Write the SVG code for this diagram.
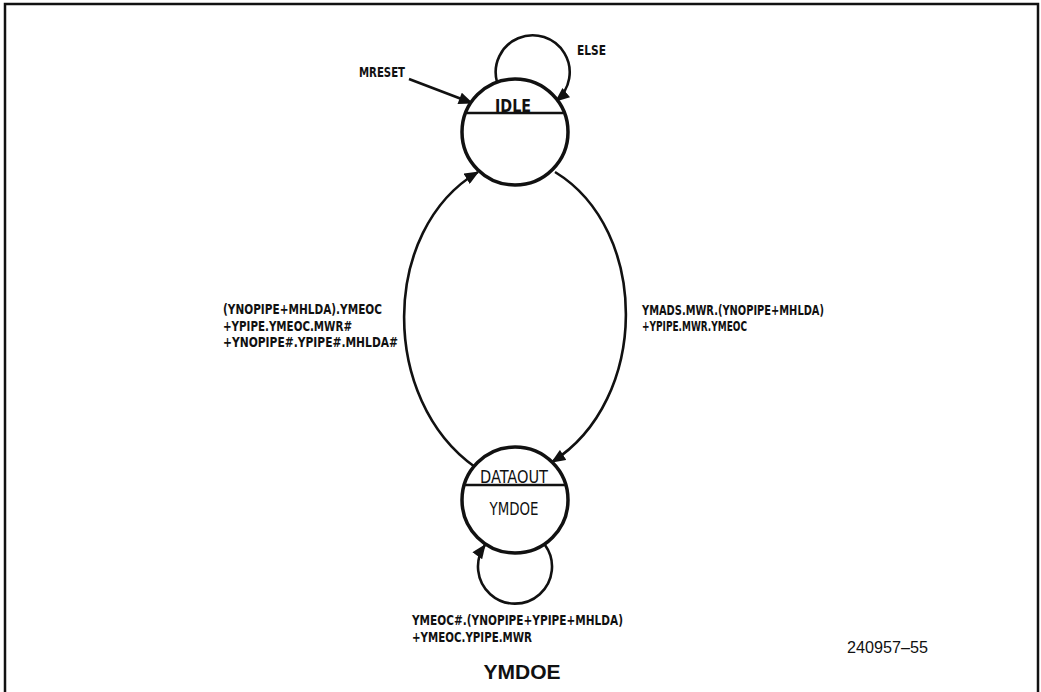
<svg xmlns="http://www.w3.org/2000/svg" width="1041" height="692" viewBox="0 0 1041 692">
  <style>
    .frame { fill: none; stroke: #111; stroke-width: 2.5; }
    .state { fill: #fff; stroke: #111; stroke-width: 3.5; }
    .divider { stroke: #111; stroke-width: 2.4; }
    .edge { fill: none; stroke: #111; stroke-width: 2.6; }
    .lbl { font-family: "Liberation Sans Narrow", "DejaVu Sans Condensed", "Liberation Sans", sans-serif; font-weight: bold; font-size: 14px; fill: #111; }
    .name { font-family: "Liberation Sans Narrow", "DejaVu Sans Condensed", "Liberation Sans", sans-serif; font-size: 18px; fill: #111; text-anchor: middle; }
    .title { font-family: "Liberation Sans", Arial, sans-serif; font-weight: bold; font-size: 21px; fill: #111; text-anchor: middle; }
    .fig { font-family: "Liberation Sans", Arial, sans-serif; font-size: 16px; fill: #111; }
  </style>
  <defs>
    <marker id="arrow" viewBox="0 0 12 10" refX="11" refY="5" markerWidth="15" markerHeight="12" markerUnits="userSpaceOnUse" orient="auto">
      <path d="M0,0 L12,5 L0,10 Z" fill="#111"/>
    </marker>
  </defs>

  <rect width="1041" height="692" fill="#fff"/>
  <!-- page frame, open at the bottom -->
  <path class="frame" d="M5,692 V4 H1038 V692"/>

  <!-- connectors -->
  <g id="connectors">
    <!-- reset entry -->
    <path class="edge" d="M409,79 L472,103" marker-end="url(#arrow)"/>
    <!-- IDLE self loop: ELSE -->
    <path class="edge" d="M497,82 A37,37 0 1 1 556,101" marker-end="url(#arrow)"/>
    <!-- IDLE -> DATAOUT -->
    <path class="edge" d="M555,172 C650,230 650,400 552,462" marker-end="url(#arrow)"/>
    <!-- DATAOUT -> IDLE -->
    <path class="edge" d="M475,467 C380,400 380,230 478,172" marker-end="url(#arrow)"/>
    <!-- DATAOUT self loop -->
    <path class="edge" d="M545,545 A37,37 0 1 1 485,545" marker-end="url(#arrow)"/>
  </g>

  <!-- state IDLE -->
  <g id="idle">
    <circle class="state" cx="515" cy="132" r="53"/>
    <line class="divider" x1="467" y1="113" x2="563" y2="113"/>
    <text class="name" x="513" y="112" textLength="36" lengthAdjust="spacingAndGlyphs" font-weight="bold">IDLE</text>
  </g>

  <!-- state DATAOUT -->
  <g id="dataout">
    <circle class="state" cx="515" cy="500" r="53"/>
    <line class="divider" x1="464" y1="485" x2="566" y2="485"/>
    <text class="name" x="514" y="483" textLength="68" lengthAdjust="spacingAndGlyphs">DATAOUT</text>
    <text class="name" x="514" y="515" textLength="49" lengthAdjust="spacingAndGlyphs" font-size="16">YMDOE</text>
  </g>

  <!-- transition labels -->
  <g id="labels">
    <text class="lbl" x="359" y="77" textLength="46" lengthAdjust="spacingAndGlyphs">MRESET</text>
    <text class="lbl" x="577" y="55" textLength="29" lengthAdjust="spacingAndGlyphs">ELSE</text>

    <text class="lbl" x="223" y="314" textLength="159" lengthAdjust="spacingAndGlyphs">(YNOPIPE+MHLDA).YMEOC</text>
    <text class="lbl" x="223" y="331" textLength="129" lengthAdjust="spacingAndGlyphs">+YPIPE.YMEOC.MWR#</text>
    <text class="lbl" x="223" y="347" textLength="175" lengthAdjust="spacingAndGlyphs">+YNOPIPE#.YPIPE#.MHLDA#</text>

    <text class="lbl" x="642" y="315" textLength="182" lengthAdjust="spacingAndGlyphs">YMADS.MWR.(YNOPIPE+MHLDA)</text>
    <text class="lbl" x="642" y="331" textLength="105" lengthAdjust="spacingAndGlyphs">+YPIPE.MWR.YMEOC</text>

    <text class="lbl" x="412" y="625" textLength="211" lengthAdjust="spacingAndGlyphs">YMEOC#.(YNOPIPE+YPIPE+MHLDA)</text>
    <text class="lbl" x="412" y="642" textLength="120" lengthAdjust="spacingAndGlyphs">+YMEOC.YPIPE.MWR</text>
  </g>

  <text class="fig" x="847" y="653" textLength="81" lengthAdjust="spacingAndGlyphs">240957–55</text>
  <text class="title" x="522" y="679">YMDOE</text>
</svg>
